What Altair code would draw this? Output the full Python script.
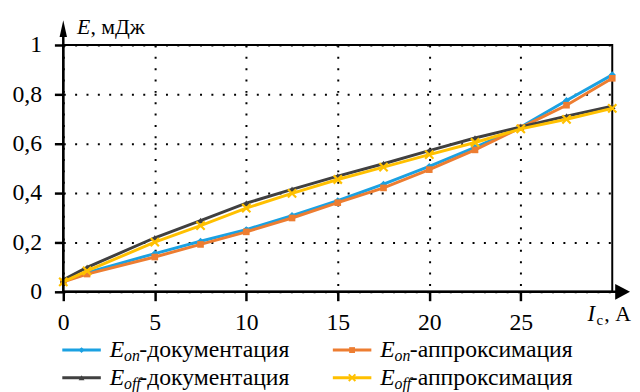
import altair as alt
import pandas as pd

# ---- data ----
x_vals = [0, 1.3, 5, 7.5, 10, 12.5, 15, 17.5, 20, 22.5, 25, 27.5, 30]
eon_doc = [0.045, 0.078, 0.155, 0.205, 0.252, 0.309, 0.369, 0.436, 0.508, 0.585, 0.668, 0.775, 0.879]
eon_apr = [0.040, 0.072, 0.141, 0.192, 0.243, 0.299, 0.361, 0.421, 0.495, 0.575, 0.665, 0.756, 0.865]
eoff_doc = [0.049, 0.099, 0.219, 0.288, 0.359, 0.415, 0.469, 0.519, 0.572, 0.623, 0.668, 0.712, 0.752]
eoff_apr = [0.040, 0.085, 0.201, 0.268, 0.339, 0.399, 0.455, 0.505, 0.556, 0.605, 0.660, 0.699, 0.743]

series_keys = ["on_doc", "on_apr", "off_doc", "off_apr"]
series_subs = ["on", "on", "off", "off"]
series_tails = ["-документация", "-аппроксимация", "-документация", "-аппроксимация"]
series_vals = [eon_doc, eon_apr, eoff_doc, eoff_apr]
x_ticks = [0, 5, 10, 15, 20, 25]
y_ticks = [0, 0.2, 0.4, 0.6, 0.8, 1]

# ---- styles ----
colors = ["#1BA1E2", "#ED7D31", "#404040", "#FFC000"]
X_SHAPE = "M-1,-1L1,1M1,-1L-1,1"
shapes = ["diamond", "square", "triangle-up", X_SHAPE]
msizes = [50, 45, 45, 70]
FONT = "Liberation Serif"
FS = 24

W, H = 556, 250

xs = alt.Scale(domain=[0, 30], nice=False, zero=False)
ys = alt.Scale(domain=[0, 1], nice=False, zero=False)

x_axis = alt.Axis(values=x_ticks, grid=True, gridColor="black", gridWidth=2,
                  gridDash=[2, 9.5], gridOpacity=1, domain=False, ticks=True,
                  tickColor="black", tickWidth=2.5, tickSize=9, labelFont=FONT,
                  labelFontSize=FS, labelColor="black", labelPadding=10, title=None,
                  labelFlush=False)
y_axis = alt.Axis(values=y_ticks, grid=True, gridColor="black", gridWidth=2,
                  gridDash=[2, 9.5], gridOpacity=1, domain=False, ticks=True,
                  tickColor="black", tickWidth=2.5, tickSize=9, labelFont=FONT,
                  labelFontSize=FS, labelColor="black", labelPadding=13, title=None,
                  labelExpr="replace(format(datum.value, '~g'), '.', ',')",
                  labelFlush=False)

rows = []
for key, vals in zip(series_keys, series_vals):
    for xv, yv in zip(x_vals, vals):
        rows.append({"series": key, "I": xv, "E": yv})
df = pd.DataFrame(rows)

layers = []
for i, key in enumerate(series_keys):
    sub = df[df["series"] == key]
    enc_x = alt.X("I:Q", scale=xs, axis=x_axis)
    enc_y = alt.Y("E:Q", scale=ys, axis=y_axis)
    line = alt.Chart(sub).mark_line(color=colors[i], strokeWidth=3).encode(x=enc_x, y=enc_y)
    if shapes[i] == X_SHAPE:
        pt = alt.Chart(sub).mark_point(shape=X_SHAPE, filled=False, color=colors[i],
                                       strokeWidth=2.2, size=msizes[i], opacity=1)
    else:
        pt = alt.Chart(sub).mark_point(shape=shapes[i], filled=True, color=colors[i],
                                       size=msizes[i], opacity=1)
    pt = pt.encode(x=enc_x, y=enc_y)
    layers += [line, pt]

one = pd.DataFrame({"k": [0]})

# axis lines with arrows
layers.append(alt.Chart(one).mark_rule(color="black", strokeWidth=2.5).encode(
    x=alt.value(0), y=alt.value(-9), y2=alt.value(H + 1)))
layers.append(alt.Chart(one).mark_rule(color="black", strokeWidth=2.5).encode(
    x=alt.value(-1), x2=alt.value(W + 5), y=alt.value(H)))
layers.append(alt.Chart(one).mark_point(shape="M0,-1L0.44,1L-0.44,1Z", filled=True,
                                        color="black", size=289, opacity=1).encode(
    x=alt.value(0), y=alt.value(-16.5)))
layers.append(alt.Chart(one).mark_point(shape="M1,0L-1,-1.07L-1,1.07Z", filled=True,
                                        color="black", size=225, opacity=1).encode(
    x=alt.value(W + 10.5), y=alt.value(H)))

def txt(s, x, y, size=FS, style=None):
    kw = dict(text=s, font=FONT, fontSize=size, color="black", align="left",
              baseline="alphabetic")
    if style:
        kw["fontStyle"] = style
    return alt.Chart(one).mark_text(**kw).encode(x=alt.value(x), y=alt.value(y))

# axis titles
layers.append(txt("E", 14, -11, 22, "italic"))
layers.append(txt(", мДж", 27.5, -11, 22))
layers.append(txt("I", 531, 280, 23, "italic"))
layers.append(txt("c", 540, 284, 15))
layers.append(txt(", А", 548, 280, 22))

# custom legend
leg_cols = [-1, 273]
leg_rows = [309, 337]
for i, key in enumerate(series_keys):
    cx = leg_cols[i % 2]
    ry = leg_rows[i // 2]
    layers.append(alt.Chart(one).mark_rule(color=colors[i], strokeWidth=3).encode(
        x=alt.value(cx), x2=alt.value(cx + 39), y=alt.value(ry)))
    if shapes[i] == X_SHAPE:
        mk = alt.Chart(one).mark_point(shape=X_SHAPE, filled=False, color=colors[i],
                                       strokeWidth=2, size=45, opacity=1)
    else:
        mk = alt.Chart(one).mark_point(shape=shapes[i], filled=True, color=colors[i],
                                       size=35, opacity=1)
    layers.append(mk.encode(x=alt.value(cx + 19.5), y=alt.value(ry)))
    tx = cx + 48
    layers.append(txt("E", tx, ry + 7, FS, "italic"))
    layers.append(txt(series_subs[i], tx + 14.5, ry + 11, 16, "italic"))
    layers.append(txt(series_tails[i], tx + 30, ry + 7))

chart = alt.layer(*layers).properties(
    width=W, height=H,
    background="white",
    autosize=alt.AutoSizeParams(type="none"),
    padding={"left": 56, "top": 35, "right": 20, "bottom": 99},
).configure_view(stroke="black", strokeWidth=2)

chart.save("out.html", embed_options={"renderer": "svg", "actions": False})
